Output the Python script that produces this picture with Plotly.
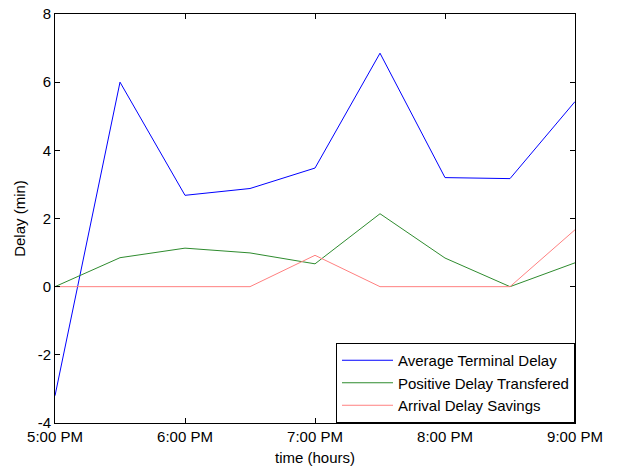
import plotly.graph_objects as go

hours = [17, 17.5, 18, 18.5, 19, 19.5, 20, 20.5, 21]
avg_terminal_delay = [-3.2, 6.0, 2.68, 2.88, 3.48, 6.85, 3.2, 3.17, 5.43]
positive_delay_transfered = [0, 0.85, 1.13, 0.99, 0.67, 2.14, 0.84, 0, 0.7]
arrival_delay_savings = [0, 0, 0, 0, 0.92, 0, 0, 0, 1.67]

x_tick_vals = [17, 18, 19, 20, 21]
x_tick_text = ["5:00 PM", "6:00 PM", "7:00 PM", "8:00 PM", "9:00 PM"]
y_tick_vals = [-4, -2, 0, 2, 4, 6, 8]
y_tick_text = ["-4", "-2", "0", "2", "4", "6", "8"]

fig = go.Figure()
fig.add_trace(go.Scatter(x=hours, y=avg_terminal_delay, mode="lines",
                         name="Average Terminal Delay",
                         line=dict(color="#0000ff", width=1)))
fig.add_trace(go.Scatter(x=hours, y=positive_delay_transfered, mode="lines",
                         name="Positive Delay Transfered",
                         line=dict(color="#2e8b2e", width=1)))
fig.add_trace(go.Scatter(x=hours, y=arrival_delay_savings, mode="lines",
                         name="Arrival Delay Savings",
                         line=dict(color="#ff8080", width=1)))

axis_common = dict(showline=True, linecolor="black", linewidth=1, mirror="ticks",
                   ticks="inside", ticklen=5, tickcolor="black", showgrid=False,
                   zeroline=False, automargin=False,
                   tickfont=dict(size=15, color="black"))

fig.update_layout(
    width=622, height=468,
    paper_bgcolor="white", plot_bgcolor="white",
    font=dict(family="Liberation Sans, Arial, sans-serif", size=15, color="black"),
    margin=dict(l=55, r=47, t=14, b=45),
    xaxis=dict(range=[17, 21], tickvals=x_tick_vals, ticktext=x_tick_text,
               title=dict(text="time (hours)", standoff=8, font=dict(size=15)), **axis_common),
    yaxis=dict(range=[-4, 8], tickvals=y_tick_vals, ticktext=y_tick_text,
               title=dict(text="Delay (min)", standoff=8, font=dict(size=15)), **axis_common),
    legend=dict(x=1, y=0, xanchor="right", yanchor="bottom",
                bordercolor="black", borderwidth=1, bgcolor="white",
                font=dict(size=15), tracegroupgap=0, itemwidth=51),
    showlegend=True,
)

fig.write_html("out.html", config={"displayModeBar": False},
               post_script="document.body.style.margin='0';document.body.style.overflow='hidden';")
